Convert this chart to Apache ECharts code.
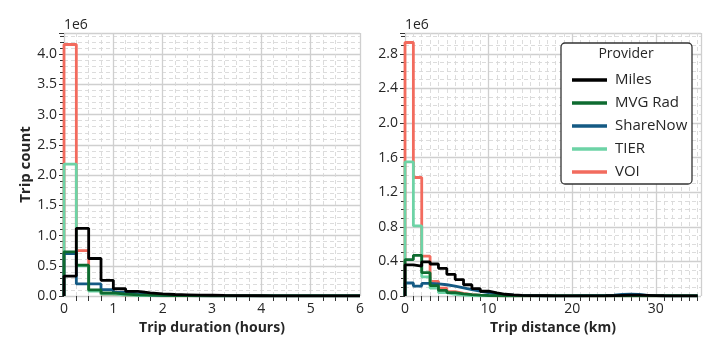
<!DOCTYPE html>
<html><head><meta charset="utf-8">
<script src="https://cdn.jsdelivr.net/npm/echarts@6/dist/echarts.min.js"></script>
<style>html,body{margin:0;padding:0;background:#fff}#c{width:714px;height:352px}</style>
</head><body><div id="c"></div>
<script>
// ---- data (values in millions of trips) ----
const providers = ['Miles', 'MVG Rad', 'ShareNow', 'TIER', 'VOI'];
const colors = ['#000000', '#0e6b30', '#145a84', '#6dd3a6', '#f26b5e'];
const durBinWidth = 0.25; // hours
const durMiles = [0.33, 1.12, 0.62, 0.26, 0.12, 0.075, 0.05, 0.035, 0.025, 0.02, 0.015, 0.012, 0.009, 0.007, 0.005, 0.004, 0.003, 0.002, 0.002, 0.001, 0.001, 0.001, 0.001, 0.001];
const durMvg = [0.73, 0.51, 0.10, 0.05, 0.03, 0.02, 0.015, 0.01, 0.008, 0.006, 0.005, 0.004, 0.003, 0.003, 0.002, 0.002, 0.001, 0.001, 0.001, 0.001, 0.001, 0.001, 0.001, 0.001];
const durShare = [0.70, 0.20, 0.20, 0.105, 0.06, 0.035, 0.02, 0.012, 0.008, 0.005, 0.004, 0.003, 0.002, 0.002, 0.001, 0.001, 0.001, 0.001, 0.001, 0.001, 0.001, 0.001, 0.001, 0.001];
const durTier = [2.18, 0.50, 0.08, 0.03, 0.015, 0.008, 0.005, 0.004, 0.003, 0.002, 0.002, 0.002, 0.002, 0.002, 0.002, 0.002, 0.002, 0.002, 0.002, 0.002, 0.002, 0.002, 0.002, 0.002];
const durVoi = [4.16, 0.75, 0.09, 0.03, 0.015, 0.008, 0.005, 0.003, 0.002, 0.002, 0.001, 0.001, 0.001, 0.001, 0.001, 0.001, 0.001, 0.001, 0.001, 0.001, 0.001, 0.001, 0.001, 0.001];

const distBinWidth = 1; // km
const distMiles = [0.36, 0.345, 0.395, 0.37, 0.32, 0.25, 0.19, 0.13, 0.085, 0.055, 0.035, 0.02, 0.012, 0.008, 0.005, 0.004, 0.003, 0.002, 0.002, 0.002, 0.002, 0.002, 0.002, 0.003, 0.005, 0.008, 0.01, 0.01, 0.008, 0.005, 0.003, 0.002, 0.001, 0.001, 0.001];
const distMvg = [0.42, 0.47, 0.27, 0.12, 0.065, 0.04, 0.025, 0.015, 0.01, 0.006, 0.004, 0.003, 0.002, 0.002, 0.001, 0.001, 0.001, 0.001, 0.001, 0.001, 0.001, 0.001, 0.001, 0.001, 0.001, 0.001, 0.001, 0.001, 0.001, 0.001, 0.001, 0.001, 0.001, 0.001, 0.001];
const distShare = [0.15, 0.115, 0.145, 0.14, 0.13, 0.115, 0.095, 0.075, 0.055, 0.04, 0.025, 0.015, 0.01, 0.006, 0.004, 0.003, 0.002, 0.002, 0.002, 0.002, 0.003, 0.004, 0.005, 0.006, 0.01, 0.018, 0.02, 0.018, 0.008, 0.004, 0.002, 0.001, 0.001, 0.001, 0.001];
const distTier = [1.55, 0.81, 0.22, 0.09, 0.04, 0.02, 0.01, 0.005, 0.003, 0.002, 0.001, 0.001, 0.001, 0.001, 0.001, 0.001, 0.001, 0.001, 0.001, 0.001, 0.001, 0.001, 0.001, 0.001, 0.001, 0.001, 0.001, 0.001, 0.001, 0.001, 0.001, 0.001, 0.001, 0.001, 0.001];
const distVoi = [2.93, 1.37, 0.46, 0.17, 0.09, 0.05, 0.03, 0.015, 0.008, 0.004, 0.002, 0.001, 0.001, 0.001, 0.001, 0.001, 0.001, 0.001, 0.001, 0.001, 0.001, 0.001, 0.001, 0.001, 0.001, 0.001, 0.001, 0.001, 0.001, 0.001, 0.001, 0.001, 0.001, 0.001, 0.001];

const durData = [durMiles, durMvg, durShare, durTier, durVoi];
const distData = [distMiles, distMvg, distShare, distTier, distVoi];

// ---- helpers ----
function stepPoints(vals, w) {
  const pts = [[0, 0]];
  vals.forEach((v, i) => pts.push([i * w, v]));
  pts.push([vals.length * w, 0]);
  return pts;
}
const FONT = '"Open Sans", "DejaVu Sans", sans-serif';
const TXT = '#262626';

function xAxisCfg(idx, max, interval, minorN, name) {
  return {
    type: 'value', gridIndex: idx, min: 0, max: max, interval: interval,
    name: name, nameLocation: 'middle', nameGap: 22,
    nameTextStyle: { fontFamily: FONT, fontSize: 14, fontWeight: 'bold', color: TXT },
    axisLine: { show: false },
    axisTick: { show: false },
    minorTick: { show: true, splitNumber: minorN, length: 5, lineStyle: { color: '#333', width: 1 } },
    axisLabel: { fontFamily: FONT, fontSize: 14, color: TXT, margin: 6, showMaxLabel: Number.isInteger(max / interval) },
    splitLine: { show: true, lineStyle: { color: '#cfcfcf', width: 1.3 } },
    minorSplitLine: { show: true, lineStyle: { color: '#d8d8d8', width: 0.9, type: [4, 3] } }
  };
}
function yAxisCfg(idx, max, interval, minorN, name) {
  return {
    type: 'value', gridIndex: idx, min: 0, max: max, interval: interval,
    name: name, nameLocation: 'middle', nameGap: 30,
    nameTextStyle: { fontFamily: FONT, fontSize: 15, fontWeight: 'bold', color: TXT },
    axisLine: { show: false },
    axisTick: { show: true, length: 5, lineStyle: { color: '#333', width: 1 } },
    minorTick: { show: true, splitNumber: minorN, length: 4, lineStyle: { color: '#333', width: 1 } },
    axisLabel: { fontFamily: FONT, fontSize: 14, color: TXT, margin: 7, showMaxLabel: false, formatter: v => v.toFixed(1) },
    splitLine: { show: true, lineStyle: { color: '#cfcfcf', width: 1.3 } },
    minorSplitLine: { show: true, lineStyle: { color: '#d8d8d8', width: 0.9, type: [4, 3] } }
  };
}

const series = [];
// draw last provider first so "Miles" ends up on top
for (let k = providers.length - 1; k >= 0; k--) {
  series.push({
    name: providers[k], type: 'line', step: 'end', xAxisIndex: 0, yAxisIndex: 0,
    data: stepPoints(durData[k], durBinWidth), showSymbol: false, symbol: 'none',
    lineStyle: { color: colors[k], width: 2.8 }, itemStyle: { color: colors[k] },
    z: 10 + (providers.length - k), animation: false
  });
  series.push({
    name: providers[k], type: 'line', step: 'end', xAxisIndex: 1, yAxisIndex: 1,
    data: stepPoints(distData[k], distBinWidth), showSymbol: false, symbol: 'none',
    lineStyle: { color: colors[k], width: 2.8 }, itemStyle: { color: colors[k] },
    z: 10 + (providers.length - k), animation: false
  });
}

const chart = echarts.init(document.getElementById('c'), null, { renderer: 'canvas' });
chart.setOption({
  animation: false,
  backgroundColor: '#fff',
  grid: [
    { left: 64, top: 33, width: 296, height: 263 },
    { left: 405, top: 33, width: 296, height: 263 }
  ],
  xAxis: [
    xAxisCfg(0, 6, 1, 4, 'Trip duration (hours)'),
    xAxisCfg(1, 35.4, 10, 10, 'Trip distance (km)')
  ],
  yAxis: [
    yAxisCfg(0, 4.35, 0.5, 5, 'Trip count'),
    yAxisCfg(1, 3.04, 0.4, 4, '')
  ],
  legend: {
    data: providers, orient: 'vertical', left: 567, top: 66, z: 100,
    selectedMode: false, icon: 'rect', itemWidth: 35, itemHeight: 3.5, itemGap: 5,
    textStyle: { fontFamily: FONT, fontSize: 15, lineHeight: 18, color: TXT, padding: [0, 0, 0, 3] }
  },
  graphic: [
    { type: 'rect', z: 90, shape: { x: 561, y: 43, width: 131, height: 141, r: 4 },
      style: { fill: '#fff', stroke: '#333', lineWidth: 1.3 } },
    { type: 'text', z: 101, style: { x: 626, y: 54, text: 'Provider', fill: TXT, font: '14px ' + FONT, align: 'center', verticalAlign: 'middle' } },
    { type: 'text', z: 101, style: { x: 64, y: 25, text: '1e6', fill: TXT, font: '14px ' + FONT, align: 'left', verticalAlign: 'middle' } },
    { type: 'text', z: 101, style: { x: 405, y: 25, text: '1e6', fill: TXT, font: '14px ' + FONT, align: 'left', verticalAlign: 'middle' } }
  ],
  series: series
});
</script></body></html>
